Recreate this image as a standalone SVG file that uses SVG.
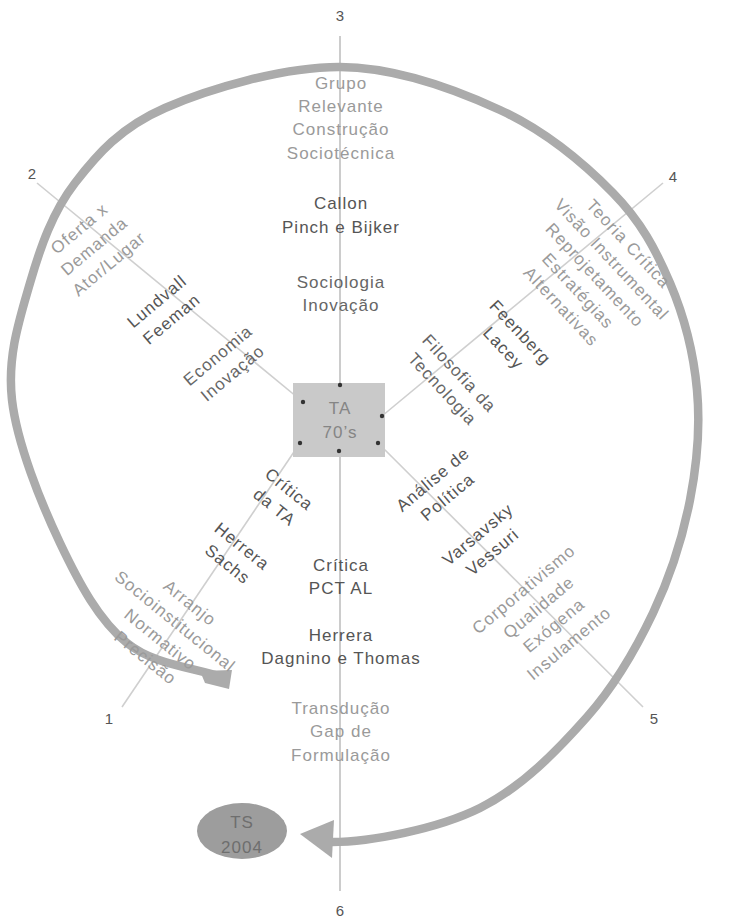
<svg xmlns="http://www.w3.org/2000/svg" width="736" height="920" viewBox="0 0 736 920">
<style>
.t{font-family:"Liberation Sans",Arial,sans-serif;font-size:17px;letter-spacing:1px;text-anchor:middle}
.dk{fill:#555}
.md{fill:#666}
.lt{fill:#9a9a9a}
.num{font-family:"Liberation Sans",Arial,sans-serif;font-size:15px;fill:#555;text-anchor:middle}
.ax{stroke:#999;stroke-width:1;fill:none}
.dg{stroke:#cfcfcf;stroke-width:1.6;fill:none}
.dot{fill:#333}
.arc{fill:none;stroke:#ababab;stroke-width:8.5}
.head{fill:#ababab}
</style>
<rect width="736" height="920" fill="#ffffff"/>
<g id="connectors">
  <line class="ax" x1="340" y1="36" x2="340" y2="891"/>
  <line class="dg" x1="37" y1="183" x2="303" y2="402"/>
  <line class="dg" x1="663" y1="183" x2="382" y2="416"/>
  <line class="dg" x1="122" y1="707" x2="300" y2="443"/>
  <line class="dg" x1="643" y1="707" x2="378" y2="443"/>
  <g id="spiral">
    <path class="arc" d="M228,679 C194.3,667 155,665.7 127,643 C99,620.3 79.2,583.5 60,543 C40.8,502.5 17,443.3 12,400 C7,356.7 19.5,319.2 30,283 C40.5,246.8 52.5,212.2 75,183 C97.5,153.8 120.8,127.3 165,108 C209.2,88.7 284.2,66.7 340,67 C395.8,67.3 454.5,89 500,110 C545.5,131 584.7,164.2 613,193 C641.3,221.8 656,250.2 670,283 C684,315.8 693.7,353.8 697,390 C700.3,426.2 697.3,462.8 690,500 C682.7,537.2 670.2,576.8 653,613 C635.8,649.2 615.8,684.5 587,717 C558.2,749.5 522.3,787 480,808 C437.7,829 370,842 332,842"/>
    <polygon class="head" points="232,670 229,689 205,683 200,671"/>
    <polygon class="head" points="300,834 334,820 332,858"/>
  </g>
</g>
<g id="labels-axes">
  <text class="num" x="340" y="21">3</text>
  <text class="num" x="32" y="179">2</text>
  <text class="num" x="673" y="182">4</text>
  <text class="num" x="109" y="724">1</text>
  <text class="num" x="654" y="724">5</text>
  <text class="num" x="340" y="916">6</text>
</g>
<g id="n-grupo" class="t lt">
  <text x="341" y="89">Grupo</text>
  <text x="341" y="112">Relevante</text>
  <text x="341" y="135">Construção</text>
  <text x="341" y="159">Sociotécnica</text>
</g>
<g id="n-callon" class="t dk">
  <text x="341" y="209">Callon</text>
  <text x="341" y="233">Pinch e Bijker</text>
</g>
<g id="n-sociologia" class="t md">
  <text x="341" y="288">Sociologia</text>
  <text x="341" y="311">Inovação</text>
</g>
<g id="n-ta">
  <rect x="293" y="383" width="92" height="74" fill="#c9c9c9"/>
  <text class="t" x="340" y="414" style="fill:#858585">TA</text>
  <text class="t" x="340" y="438" style="fill:#858585">70’s</text>
  <circle class="dot" cx="340" cy="385" r="2.2"/>
  <circle class="dot" cx="303" cy="402" r="2.2"/>
  <circle class="dot" cx="382" cy="416" r="2.2"/>
  <circle class="dot" cx="300" cy="443" r="2.2"/>
  <circle class="dot" cx="378" cy="443" r="2.2"/>
  <circle class="dot" cx="339" cy="451" r="2.2"/>
</g>
<g id="n-oferta" class="t lt" transform="translate(94,246) rotate(-40)">
  <text y="-17">Oferta x</text>
  <text y="6">Demanda</text>
  <text y="29">Ator/Lugar</text>
</g>
<g id="n-lundvall" class="t dk" transform="translate(164,310) rotate(-40)">
  <text y="-5.5">Lundvall</text>
  <text y="17.5">Feeman</text>
</g>
<g id="n-economia" class="t md" transform="translate(225,364) rotate(-40)">
  <text y="-5.5">Economia</text>
  <text y="17.5">Inovação</text>
</g>
<g id="n-teoria" class="t lt" transform="translate(595,275) rotate(47)">
  <text y="-40">Teoria Crítica</text>
  <text y="-17">Visão Instrumental</text>
  <text y="6">Reprojetamento</text>
  <text y="29">Estratégias</text>
  <text y="52">Alternativas</text>
</g>
<g id="n-feenberg" class="t dk" transform="translate(512,340) rotate(47)">
  <text y="-5.5">Feenberg</text>
  <text y="17.5">Lacey</text>
</g>
<g id="n-filosofia" class="t md" transform="translate(451,381) rotate(47)">
  <text y="-5.5">Filosofia da</text>
  <text y="17.5">Tecnologia</text>
</g>
<g id="n-critica-ta" class="t dk" transform="translate(282,498) rotate(39)">
  <text y="-5.5">Crítica</text>
  <text y="17.5">da TA</text>
</g>
<g id="n-herrera-sachs" class="t dk" transform="translate(235,555) rotate(39)">
  <text y="-5.5">Herrera</text>
  <text y="17.5">Sachs</text>
</g>
<g id="n-arranjo" class="t lt" transform="translate(168,630) rotate(39)">
  <text y="-29">Arranjo</text>
  <text y="-5.5">Socioinstitucional</text>
  <text y="18">Normativo</text>
  <text y="41.5">Precisão</text>
</g>
<g id="n-analise" class="t dk" transform="translate(440,488) rotate(-40)">
  <text y="-5.5">Análise de</text>
  <text y="17.5">Política</text>
</g>
<g id="n-varsavsky" class="t dk" transform="translate(485,543) rotate(-40)">
  <text y="-5.5">Varsavsky</text>
  <text y="17.5">Vessuri</text>
</g>
<g id="n-corporativismo" class="t lt" transform="translate(546,616) rotate(-40)">
  <text y="-29">Corporativismo</text>
  <text y="-5.5">Qualidade</text>
  <text y="18">Exógena</text>
  <text y="41.5">Insulamento</text>
</g>
<g id="n-critica-pct" class="t dk">
  <text x="341" y="571">Crítica</text>
  <text x="341" y="594">PCT AL</text>
</g>
<g id="n-herrera-dagnino" class="t dk">
  <text x="341" y="641">Herrera</text>
  <text x="341" y="664">Dagnino e Thomas</text>
</g>
<g id="n-transducao" class="t lt">
  <text x="341" y="714">Transdução</text>
  <text x="341" y="737">Gap de</text>
  <text x="341" y="761">Formulação</text>
</g>
<g id="n-ts">
  <ellipse cx="242" cy="831" rx="45" ry="28" fill="#9d9d9d"/>
  <text class="t" x="242" y="828" style="fill:#6e6e6e">TS</text>
  <text class="t" x="242" y="853" style="fill:#6e6e6e">2004</text>
</g>
</svg>
